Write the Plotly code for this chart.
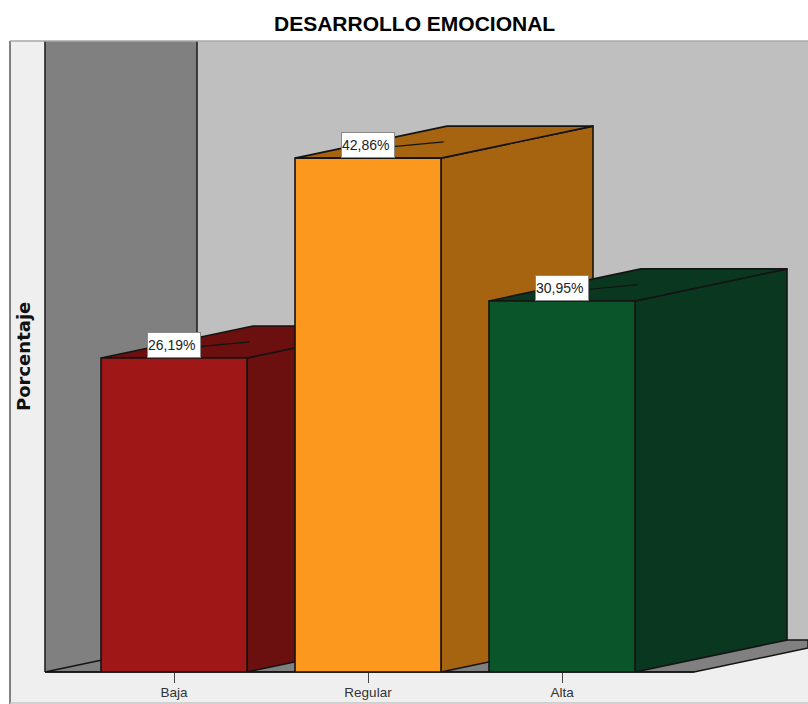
import plotly.graph_objects as go

# Data
categories = ["Baja", "Regular", "Alta"]
percentages = [26.19, 42.86, 30.95]
labels = ["26,19%", "42,86%", "30,95%"]
front_colors = ["#A01717", "#FB981D", "#0B552B"]
side_colors = ["#6B0F0F", "#A66410", "#0A3720"]
title = "DESARROLLO EMOCIONAL"
y_title = "Porcentaje"

# Layout geometry (pixels in the 808x704 picture)
W, H = 808, 704
BASE_Y, PX_PER_PCT = 672, 11.99
FIRST_X, PX_PER_CAT = 174, 194
BAR_PX = 146
DEPTH_X, DEPTH_Y = 152, 32
INK = "#141414"


def px(x):
    return x / W


def py(y):
    return 1 - y / H


def path(points):
    return "M" + " L".join(f"{px(x):.5f} {py(y):.5f}" for x, y in points) + " Z"


x_range = [(0 - FIRST_X) / PX_PER_CAT, (W - FIRST_X) / PX_PER_CAT]
y_range = [0, BASE_Y / PX_PER_PCT]
y_domain = [py(BASE_Y), 1]
half = BAR_PX / PX_PER_CAT / 2
dx, dy = DEPTH_X / PX_PER_CAT, DEPTH_Y / PX_PER_PCT

fig = go.Figure()

# Sides and tops of the 3-D bars, on the base axes
for i, (value, color) in enumerate(zip(percentages, side_colors)):
    left, right = i - half, i + half
    side_x = [right, right + dx, right + dx, right, right]
    side_y = [0, dy, value + dy, value, 0]
    top_x = [left, right, right + dx, left + dx, left]
    top_y = [value, value, value + dy, value + dy, value]
    for xs, ys in ((side_x, side_y), (top_x, top_y)):
        fig.add_trace(go.Scatter(
            x=xs, y=ys, mode="lines", fill="toself", fillcolor=color,
            line=dict(color=INK, width=1.6), hoverinfo="skip", showlegend=False,
        ))
    # Leader line from the label to the centre of the top face
    fig.add_trace(go.Scatter(
        x=[i + 0.13, i + 0.13 + 0.26], y=[value + 0.95, value + 1.35],
        mode="lines", line=dict(color=INK, width=1.2),
        hoverinfo="skip", showlegend=False,
    ))

# Front faces, on overlay axes so they cover the neighbours' sides
fig.add_trace(go.Bar(
    x=list(range(len(categories))), y=percentages, width=BAR_PX / PX_PER_CAT,
    marker=dict(color=front_colors, line=dict(color=INK, width=1.6)),
    xaxis="x2", yaxis="y2", showlegend=False, hoverinfo="skip",
))

shapes = [
    # Light outer panel
    dict(type="path", path=path([(10, 41), (808, 41), (808, 703), (10, 703)]),
         fillcolor="#EFEFEF", line=dict(width=0)),
    dict(type="line", x0=px(10), x1=px(10), y0=py(41), y1=py(704),
         line=dict(color="#5A5A5A", width=1.5)),
    dict(type="line", x0=px(10), x1=px(808), y0=py(703), y1=py(703),
         line=dict(color="#C4C4C4", width=1.5)),
    # Back wall
    dict(type="path", path=path([(197, 41), (808, 41), (808, 640), (197, 640)]),
         fillcolor="#BFBFBF", line=dict(width=0)),
    # Left wall
    dict(type="path", path=path([(45, 41), (197, 41), (197, 640), (45, 672)]),
         fillcolor="#808080", line=dict(width=0)),
    dict(type="line", x0=px(45), x1=px(45), y0=py(41), y1=py(672),
         line=dict(color="#222222", width=1.6)),
    dict(type="line", x0=px(197), x1=px(197), y0=py(41), y1=py(640),
         line=dict(color="#222222", width=1.6)),
    # Floor
    dict(type="path", path=path([(45, 672), (197, 640), (808, 640), (808, 648), (694, 672)]),
         fillcolor="#808080", line=dict(color=INK, width=1.4)),
    dict(type="line", x0=px(45), x1=px(694), y0=py(672), y1=py(672),
         line=dict(color=INK, width=1.4)),
    # Top edge of the frame
    dict(type="line", x0=px(10), x1=px(808), y0=py(41), y1=py(41),
         line=dict(color="#A8A8A8", width=1.5)),
]
for s in shapes:
    s.update(xref="paper", yref="paper", layer="below")

annotations = [
    dict(x=i, y=value, xref="x2", yref="y2", text=text, showarrow=False,
         xanchor="center", yanchor="bottom", xshift=-0.5, width=52, height=24,
         align="left", bgcolor="#FFFFFF", bordercolor="#8A8A8A", borderwidth=1,
         borderpad=0, font=dict(family="Liberation Sans", size=14, color="#222222"))
    for i, (value, text) in enumerate(zip(percentages, labels))
]
annotations.append(dict(
    x=px(414), y=py(24), xref="paper", yref="paper", text=f"<b>{title}</b>",
    showarrow=False, xanchor="center", yanchor="middle",
    font=dict(family="Liberation Sans", size=21, color="#000000"),
))
annotations.append(dict(
    x=px(23), y=py(357), xref="paper", yref="paper", text=f"<b>{y_title}</b>",
    textangle=-90, showarrow=False, xanchor="center", yanchor="middle",
    font=dict(family="DejaVu Sans", size=18, color="#111111"),
))

fig.update_layout(
    width=W, height=H, margin=dict(l=0, r=0, t=0, b=0),
    paper_bgcolor="#FFFFFF", plot_bgcolor="rgba(0,0,0,0)",
    shapes=shapes, annotations=annotations,
    xaxis=dict(
        domain=[0, 1], range=x_range, tickmode="array",
        tickvals=list(range(len(categories))), ticktext=categories,
        ticks="outside", ticklen=10, tickwidth=1, tickcolor="#444444",
        showgrid=False, zeroline=False, showline=False, ticklabelstandoff=-2,
        tickfont=dict(family="Liberation Sans", size=13.5, color="#333333"),
    ),
    yaxis=dict(domain=y_domain, range=y_range, visible=False),
    xaxis2=dict(domain=[0, 1], range=x_range, overlaying="x", visible=False),
    yaxis2=dict(domain=y_domain, range=y_range, overlaying="y", visible=False),
)

fig.write_html("out.html", config={"displayModeBar": False},
               post_script="document.body.style.margin='0';")
